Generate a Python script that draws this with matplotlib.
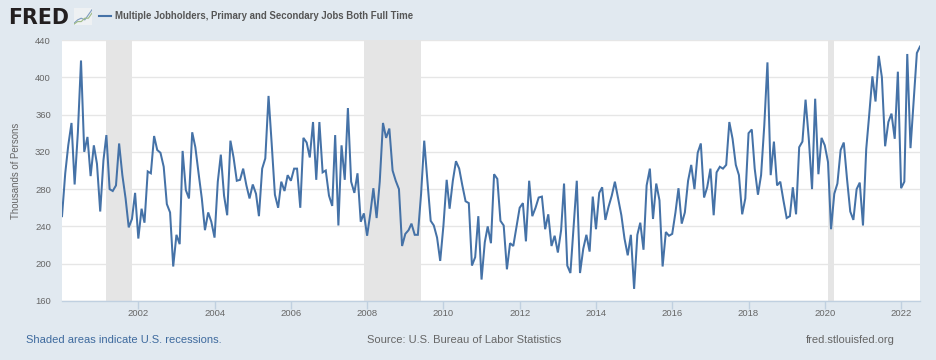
import matplotlib
matplotlib.use('Agg')
import matplotlib.pyplot as plt
import matplotlib.dates as mdates
import pandas as pd
from matplotlib.lines import Line2D

plt.rcParams['font.family'] = ['Liberation Sans', 'DejaVu Sans']

# Monthly values, thousands of persons, Jan 2000 - Jul 2022
values = [
    251, 297, 327, 351, 285, 341, 418, 320, 336, 294, 327, 307,
    256, 311, 338, 280, 278, 284, 329, 295, 270, 239, 248, 276,
    227, 259, 244, 299, 297, 337, 322, 319, 304, 264, 255, 197,
    231, 221, 321, 279, 270, 341, 325, 297, 270, 236, 255, 245,
    228, 288, 317, 273, 252, 332, 314, 289, 290, 302, 284, 270,
    285, 275, 251, 302, 313, 380, 329, 274, 260, 288, 278, 295,
    289, 302, 302, 260, 335, 330, 314, 352, 290, 352, 298, 300,
    273, 262, 338, 241, 327, 290, 367, 288, 276, 297, 245, 254,
    230, 254, 281, 249, 288, 351, 335, 345, 300, 289, 280, 219,
    232, 236, 243, 231, 231, 275, 332, 288, 246, 241, 228, 203,
    241, 290, 259, 289, 310, 302, 284, 267, 265, 198, 207, 251,
    183, 223, 240, 222, 296, 291, 246, 241, 194, 222, 219, 239,
    260, 265, 224, 289, 251, 260, 271, 272, 237, 253, 219, 230,
    212, 236, 286, 198, 190, 241, 289, 190, 216, 231, 213, 272,
    237, 276, 282, 247, 261, 273, 288, 270, 252, 227, 209, 231,
    173, 231, 244, 215, 284, 302, 248, 286, 268, 197, 234, 230,
    232, 255, 281, 243, 255, 289, 306, 280, 319, 329, 271, 282,
    302, 252, 298, 304, 302, 306, 352, 334, 306, 295, 253, 270,
    340, 344, 302, 274, 295, 349, 416, 295, 331, 284, 288, 268,
    249, 251, 282, 253, 325, 331, 376, 334, 280, 377, 296, 335,
    327, 309, 237, 275, 286, 322, 330, 291, 256, 247, 280, 287,
    241, 323, 359, 401, 374, 423, 400, 326, 352, 361, 334, 406,
    281, 288, 425, 324, 374, 426, 433,
]
dates = pd.date_range('2000-01-01', periods=len(values), freq='MS')

recessions = [('2001-03-01', '2001-11-01'), ('2007-12-01', '2009-06-01'), ('2020-02-01', '2020-04-01')]
y_ticks = [160, 200, 240, 280, 320, 360, 400, 440]
x_years = list(range(2002, 2023, 2))

background_color = '#e1e9f0'
line_color = '#4572a7'
text_color = '#666666'

fig = plt.figure(figsize=(9.36, 3.6), dpi=100)
fig.patch.set_facecolor(background_color)

# Axes box in pixels: x 62-920, y 40-301
ax = fig.add_axes([62 / 936, 1 - 301 / 360, 858 / 936, 261 / 360])
ax.set_facecolor('white')

for start, end in recessions:
    ax.axvspan(pd.Timestamp(start), pd.Timestamp(end), color='#e5e5e5', linewidth=0, zorder=1.5)

ax.plot(dates, values, color=line_color, linewidth=1.45, zorder=3, solid_joinstyle='miter')

ax.set_xlim(dates[0], dates[-1])
ax.set_ylim(160, 440)
ax.set_yticks(y_ticks)
ax.set_xticks([pd.Timestamp(f'{y}-01-01') for y in x_years])
ax.xaxis.set_major_formatter(mdates.DateFormatter('%Y'))
ax.yaxis.grid(True, color='#e6e6e6', linewidth=1)
ax.set_axisbelow(True)

for name in ['top', 'right', 'left']:
    ax.spines[name].set_visible(False)
ax.spines['bottom'].set_color('#c0d0e0')
ax.spines['bottom'].set_linewidth(1)

ax.tick_params(axis='x', length=6, width=1, color='#c0d0e0', labelcolor=text_color, labelsize=6.8, pad=0)
ax.tick_params(axis='y', length=0, labelcolor=text_color, labelsize=6.8, pad=8)
ax.set_ylabel('Thousands of Persons', color=text_color, fontsize=6.9)
ax.yaxis.set_label_coords(-41 / 858, 0.5)

# Header: logo, legend key and series title
fig.text(8 / 936, 1 - 24 / 360, 'FRED', fontsize=14.8, fontweight='bold', color='#231f20', va='baseline',
         family='DejaVu Sans')
icon = fig.add_axes([74 / 936, 1 - 25 / 360, 18 / 936, 17 / 360])
icon.set_facecolor('#eef1f3')
icon.set_xticks([])
icon.set_yticks([])
for spine in icon.spines.values():
    spine.set_visible(False)
icon.plot([0, 2, 4, 6, 8, 10], [1, 3, 4, 3, 6, 9], color='#7f9cc0', linewidth=0.8)
icon.plot([0, 2, 4, 6, 8, 10], [0.5, 2, 2, 4, 4, 7], color='#9dbb86', linewidth=0.8)
icon.set_xlim(0, 10)
icon.set_ylim(0, 10)

fig.add_artist(Line2D([99 / 936, 111 / 936], [1 - 16 / 360, 1 - 16 / 360], color=line_color, linewidth=1.5))
fig.text(115 / 936, 1 - 16 / 360, 'Multiple Jobholders, Primary and Secondary Jobs Both Full Time',
         fontsize=6.9, fontweight='bold', color='#555555', va='center')

# Footer
fig.text(26 / 936, 1 - 340 / 360, 'Shaded areas indicate U.S. recessions.', fontsize=8, color='#3e6a9e', va='center')
fig.text(367 / 936, 1 - 340 / 360, 'Source: U.S. Bureau of Labor Statistics', fontsize=8, color=text_color, va='center')
fig.text(895 / 936, 1 - 340 / 360, 'fred.stlouisfed.org', fontsize=8, color=text_color, va='center', ha='right')

fig.savefig('out.png', dpi=100, facecolor=fig.get_facecolor())
